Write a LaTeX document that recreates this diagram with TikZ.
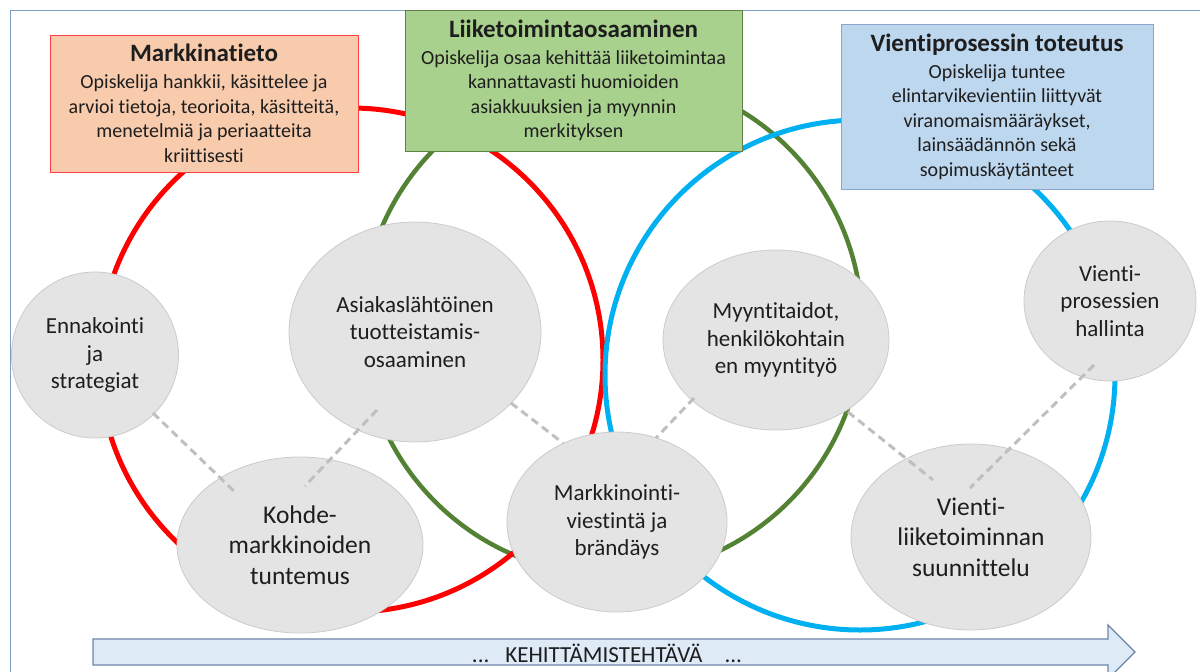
\documentclass[tikz,border=0pt]{standalone}
\usepackage{fontspec}
\setmainfont{Carlito}[Ligatures={TeX,NoCommon}]
\usetikzlibrary{shapes.geometric, calc}

\definecolor{ringred}{HTML}{FF0000}
\definecolor{ringgreen}{HTML}{548235}
\definecolor{ringblue}{HTML}{00B0F0}
\definecolor{textdark}{HTML}{1E1E1E}
\definecolor{topicfill}{HTML}{E4E4E4}
\definecolor{topicline}{HTML}{CBCBCB}
\definecolor{linkgray}{HTML}{BFBFBF}
\definecolor{framecol}{HTML}{7F9DC4}
\definecolor{flowfill}{HTML}{DEEAF6}

\begin{document}
\begin{tikzpicture}[
    x=1pt, y=-1pt,
    ring/.style={line width=5pt},
    goalbox/.style={
        rectangle,
        line width=1pt,
        align=center,
        inner sep=0pt,
        font=\fontsize{20}{24.5}\selectfont,
        text=textdark
    },
    topic/.style={
        ellipse,
        draw=topicline,
        fill=topicfill,
        line width=0.8pt,
        align=center,
        inner sep=0pt,
        font=\fontsize{23}{27.5}\selectfont,
        text=textdark
    },
    bigtopic/.style={topic, font=\fontsize{25.5}{30.5}\selectfont},
    link/.style={draw=linkgray, line width=3pt, dash pattern=on 8pt off 5pt},
    flowarrow/.style={draw=framecol!85!black, fill=flowfill, line width=1.2pt, line join=miter}
]
\useasboundingbox (0,0) rectangle (1200,672);
\clip (0,0) rectangle (1200,672);

\draw[draw=framecol, line width=1.5pt] (10.5,10.5) rectangle (1220,700);

\draw[ring, draw=ringgreen, line width=4.5pt] (612,325) circle (250);
\draw[ring, draw=ringred] (351,360) circle (252);
\draw[ring, draw=ringblue] (860,375) circle (255);

\node[goalbox, draw=red!75, fill={rgb,255:red,248;green,203;blue,173}, minimum width=308pt, minimum height=137pt] (tieto) at (204,103.5)
    {{\fontsize{25}{27}\selectfont\bfseries Markkinatieto}\\[2.5pt]Opiskelija hankkii, käsittelee ja\\arvioi tietoja, teorioita, käsitteitä,\\menetelmiä ja periaatteita\\kriittisesti};
\node[goalbox, draw={rgb,255:red,96;green,128;blue,72}, fill={rgb,255:red,169;green,209;blue,142}, minimum width=337pt, minimum height=141pt] (liike) at (573.5,80.5)
    {{\fontsize{25}{27}\selectfont\bfseries Liiketoimintaosaaminen}\\[2.5pt]Opiskelija osaa kehittää liiketoimintaa\\kannattavasti huomioiden\\asiakkuuksien ja myynnin\\merkityksen};
\node[goalbox, draw={rgb,255:red,138;green,166;blue,204}, fill={rgb,255:red,189;green,215;blue,238}, minimum width=312pt, minimum height=165pt] (vienti) at (997,106.5)
    {{\fontsize{25}{27}\selectfont\bfseries Vientiprosessin toteutus}\\[2.5pt]Opiskelija tuntee\\elintarvikevientiin liittyvät\\viranomaismääräykset,\\lainsäädännön sekä\\sopimuskäytänteet};

\node[topic, minimum width=167pt, minimum height=166pt] (enna) at (95,355) {Ennakointi\\ja\\strategiat};
\node[topic, minimum width=252pt, minimum height=220pt] (asia) at (415,332) {Asiakaslähtöinen\\tuotteistamis-\\osaaminen};
\node[topic, minimum width=226pt, minimum height=180pt] (myyn) at (776,340) {Myyntitaidot,\\henkilökohtain\\en myyntityö};
\node[topic, minimum width=172pt, minimum height=160pt] (vpro) at (1110,301) {Vienti-\\prosessien\\hallinta};
\node[bigtopic, minimum width=246pt, minimum height=176pt] (kohde) at (300,545) {Kohde-\\markkinoiden\\tuntemus};
\node[topic, minimum width=220pt, minimum height=180pt] (mark) at (617,522) {Markkinointi-\\viestintä ja\\brändäys};
\node[bigtopic, minimum width=240pt, minimum height=186pt] (vlii) at (971,537) {Vienti-\\liiketoiminnan\\suunnittelu};

\draw[link] ($(enna)+(58,58)$) -- ($(kohde)+(-63,-51)$);
\draw[link] ($(asia)+(-38,78)$) -- ($(kohde)+(5,-59)$);
\draw[link] ($(asia)+(96,71)$) -- ($(mark)+(-54,-79)$);
\draw[link] ($(myyn)+(-82,58)$) -- ($(mark)+(39,-84)$);
\draw[link] ($(myyn)+(72,72)$) -- ($(vlii)+(-38,-57)$);
\draw[link] ($(vpro)+(-16,64)$) -- ($(vlii)+(-1,-49)$);

\draw[flowarrow] (93,639) -- (1108,639) -- (1108,625) -- (1135,652) -- (1108,679) -- (1108,665) -- (93,665) -- cycle;
\node[font=\fontsize{23}{26}\selectfont, text=textdark] (kehitys) at (607,653) {...\hspace{16pt}KEHITTÄMISTEHTÄVÄ\hspace{22pt}...};

\end{tikzpicture}
\end{document}
